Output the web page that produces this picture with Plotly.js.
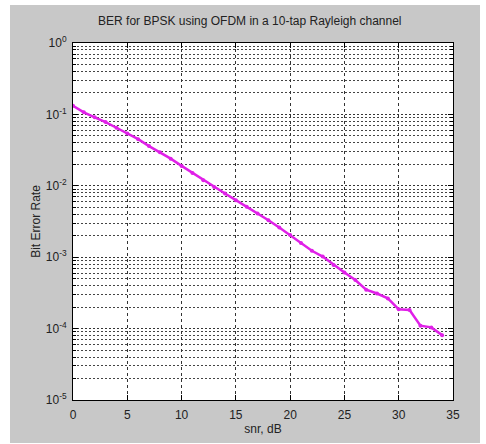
<!DOCTYPE html>
<html>
<head>
<meta charset="utf-8">
<script src="https://cdn.plot.ly/plotly-3.0.1.min.js"></script>
<style>
  html, body { margin: 0; padding: 0; background: #ffffff; }
  #bg { position: absolute; left: 10px; top: 5px; width: 470px; height: 438px; background: #c8c8c8; }
  #chart { position: absolute; left: 0; top: 0; width: 486px; height: 444px; }
</style>
</head>
<body>
<div id="bg"></div>
<div id="chart"></div>
<script>
const snrDb = [0,1,2,3,4,5,6,7,8,9,10,11,12,13,14,15,16,17,18,19,20,21,22,23,24,25,26,27,28,29,30,31,32,33,34];
const ber = [0.132,0.107,0.091,0.078,0.065,0.054,0.045,0.036,0.0295,0.024,0.019,0.0151,0.012,0.0096,0.0078,0.0063,0.0051,0.0041,0.0033,0.0026,0.00204,0.00158,0.00123,0.00102,0.00078,0.00061,0.00048,0.00035,0.00031,0.000265,0.000186,0.000182,0.000110,0.000104,0.000081];
const yTickVals = [1, 0.1, 0.01, 0.001, 0.0001, 0.00001];
const yTickText = ['10<sup>0</sup>','10<sup>-1</sup>','10<sup>-2</sup>','10<sup>-3</sup>','10<sup>-4</sup>','10<sup>-5</sup>'];
const xTickVals = [0,5,10,15,20,25,30,35];

const trace = {
  x: snrDb, y: ber, type: 'scatter', mode: 'lines+markers',
  line: { color: '#e020e8', width: 2.5 },
  marker: { color: '#e020e8', size: 4 },
  hoverinfo: 'skip'
};

const ff = 'Liberation Sans, Arial, sans-serif';
const font = { family: ff, size: 12, color: '#222' };

const layout = {
  width: 486, height: 444,
  margin: { l: 73, r: 33, t: 43, b: 44 },
  paper_bgcolor: 'rgba(0,0,0,0)',
  plot_bgcolor: '#ffffff',
  showlegend: false,
  font: font,
  title: { text: 'BER for BPSK using OFDM in a 10-tap Rayleigh channel',
           font: { family: ff, size: 12, color: '#222' },
           x: 0.514, xanchor: 'center', xref: 'container', y: 0.953, yanchor: 'middle', yref: 'container' },
  xaxis: {
    range: [0, 35], tickvals: xTickVals, ticks: 'inside', ticklen: 5, tickcolor: '#000',
    ticklabelstandoff: 4,
    showline: true, linecolor: '#000', linewidth: 1, mirror: 'allticks',
    showgrid: true, gridcolor: '#333', griddash: '3px,3px', gridwidth: 1,
    zeroline: false,
    tickfont: { family: ff, size: 12, color: '#222' },
    title: { text: 'snr, dB', standoff: 3, font: { family: ff, size: 12, color: '#222' } }
  },
  yaxis: {
    type: 'log', range: [-5, 0], tickvals: yTickVals, ticktext: yTickText,
    ticks: 'inside', ticklen: 5, tickcolor: '#000',
    ticklabelstandoff: 3,
    showline: true, linecolor: '#000', linewidth: 1, mirror: 'allticks',
    showgrid: true, gridcolor: '#333', griddash: '2px,2px', gridwidth: 1,
    zeroline: false,
    minor: { dtick: 'D1', ticks: 'inside', ticklen: 3, tickcolor: '#000', showgrid: true, gridcolor: '#444', griddash: '2px,2px', gridwidth: 1 },
    tickfont: { family: ff, size: 12, color: '#222' },
    title: { text: 'Bit Error Rate', standoff: 2, font: { family: ff, size: 12, color: '#222' } }
  }
};

Plotly.newPlot('chart', [trace], layout, { staticPlot: true, displayModeBar: false });
</script>
</body>
</html>
